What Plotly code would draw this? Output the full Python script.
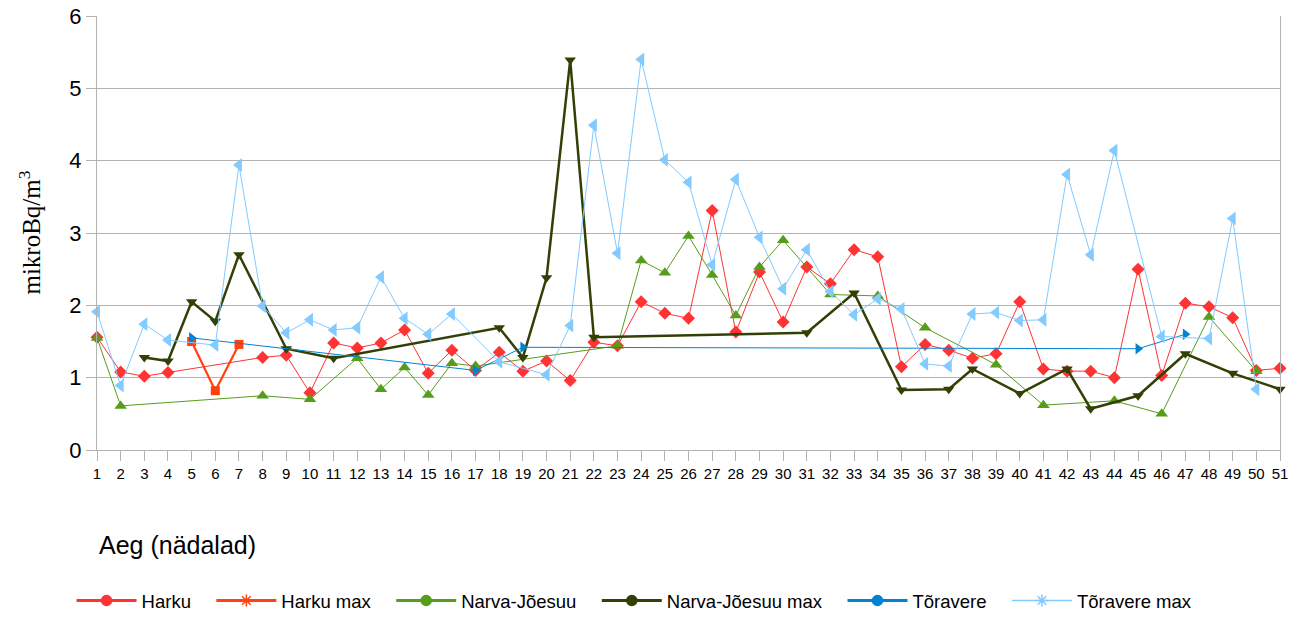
#!/usr/bin/env python3
#coding:utf-8

import plotly.graph_objects as go

# weekly values (mikroBq/m3); weeks with no value are simply left out
weeks = list(range(1, 52))

harku_w = [1, 2, 3, 4, 8, 9, 10, 11, 12, 13, 14, 15, 16, 17, 18, 19, 20, 21, 22, 23, 24, 25, 26,
           27, 28, 29, 30, 31, 32, 33, 34, 35, 36, 37, 38, 39, 40, 41, 42, 43, 44, 45, 46, 47,
           48, 49, 50, 51]
harku_v = [1.56, 1.08, 1.02, 1.07, 1.28, 1.31, 0.79, 1.48, 1.41, 1.48, 1.66, 1.06, 1.38, 1.10,
           1.35, 1.09, 1.23, 0.96, 1.49, 1.44, 2.05, 1.89, 1.82, 3.31, 1.63, 2.46, 1.77, 2.53,
           2.30, 2.77, 2.67, 1.15, 1.46, 1.38, 1.27, 1.33, 2.05, 1.12, 1.09, 1.09, 1.00, 2.50,
           1.03, 2.03, 1.98, 1.83, 1.10, 1.13]

harku_max_w = [5, 6, 7]
harku_max_v = [1.50, 0.82, 1.46]

narva_w = [1, 2, 8, 10, 12, 13, 14, 15, 16, 17, 23, 24, 25, 26, 27, 28, 29, 30, 32, 34, 36, 39,
           41, 44, 46, 48, 50]
narva_v = [1.55, 0.61, 0.75, 0.70, 1.27, 0.84, 1.14, 0.76, 1.20, 1.16, 1.44, 2.62, 2.45, 2.96,
           2.42, 1.86, 2.53, 2.90, 2.15, 2.13, 1.69, 1.18, 0.62, 0.68, 0.50, 1.84, 1.09]

narva_max_w = [3, 4, 5, 6, 7, 9, 11, 18, 19, 20, 21, 22, 31, 33, 35, 37, 38, 40, 42, 43, 45, 47,
               49, 51]
narva_max_v = [1.28, 1.23, 2.05, 1.78, 2.70, 1.40, 1.27, 1.69, 1.28, 2.38, 5.39, 1.56, 1.62,
               2.17, 0.83, 0.84, 1.12, 0.78, 1.12, 0.57, 0.75, 1.33, 1.06, 0.84]

torav_w = [5, 17, 19, 45, 47]
torav_v = [1.55, 1.10, 1.42, 1.40, 1.60]

torav_max_w = [1, 2, 3, 4, 6, 7, 8, 9, 10, 11, 12, 13, 14, 15, 16, 18, 20, 21, 22, 23, 24, 25,
               26, 27, 28, 29, 30, 31, 32, 33, 34, 35, 36, 37, 38, 39, 40, 41, 42, 43, 44, 46,
               48, 49, 50]
torav_max_v = [1.91, 0.89, 1.74, 1.52, 1.45, 3.94, 1.99, 1.62, 1.80, 1.66, 1.69, 2.39, 1.82,
               1.60, 1.88, 1.22, 1.04, 1.72, 4.49, 2.72, 5.40, 4.01, 3.70, 2.56, 3.74, 2.94,
               2.23, 2.77, 2.19, 1.87, 2.09, 1.95, 1.19, 1.16, 1.88, 1.90, 1.79, 1.80, 3.81,
               2.70, 4.14, 1.57, 1.54, 3.20, 0.84]

# name, x, y, colour, line width, plot symbol, marker size, legend symbol
series = [
    ("Harku", harku_w, harku_v, "#ff3333", 1, "diamond", 10, "circle"),
    ("Harku max", harku_max_w, harku_max_v, "#ff420e", 2.2, "square", 9, "asterisk-open"),
    ("Narva-Jõesuu", narva_w, narva_v, "#579d1c", 1, "triangle-up", 11, "circle"),
    ("Narva-Jõesuu max", narva_max_w, narva_max_v, "#314004", 2.5, "triangle-down", 10, "circle"),
    ("Tõravere", torav_w, torav_v, "#0084d1", 1, "triangle-right", 10, "circle"),
    ("Tõravere max", torav_max_w, torav_max_v, "#83caff", 1, "triangle-left", 12, "asterisk-open"),
]

fig = go.Figure()
for name, xs, ys, col, lw, sym, size, legsym in series:
    fig.add_trace(go.Scatter(x=xs, y=ys, mode="lines+markers", name=name, showlegend=False,
                             line=dict(color=col, width=lw),
                             marker=dict(symbol=sym, size=size, color=col, line=dict(width=0)),
                             cliponaxis=False))
# legend entries drawn like the original (circle / asterisk keys);
# no-break spaces widen the gap between entries
for name, xs, ys, col, lw, sym, size, legsym in series:
    fig.add_trace(go.Scatter(x=[None], y=[None], mode="lines+markers",
                             name=name + "\u00a0\u00a0\u00a0",
                             line=dict(color=col, width=3 if lw > 1.5 or legsym == "circle" else 1.5),
                             marker=dict(symbol=legsym, size=10, color=col,
                                         line=dict(color=col, width=1.5))))

fig.update_layout(
    width=1303, height=625,
    margin=dict(l=97, r=23, t=16, b=175, autoexpand=False),
    plot_bgcolor="white", paper_bgcolor="white",
    font=dict(family="Liberation Sans, Arial, sans-serif", color="#000000"),
    legend=dict(orientation="h", x=-0.0215, y=-0.348,
                xanchor="left", yanchor="middle", font=dict(size=18.5), itemwidth=60,
                tracegroupgap=0),
)
fig.update_xaxes(range=[1, 51], tickmode="array", tickvals=weeks, ticktext=[str(w) for w in weeks],
                 tickfont=dict(size=15), ticks="outside", ticklen=10, tickcolor="#b3b3b3",
                 ticklabelstandoff=0, ticklabeloverflow="allow",
                 showgrid=False, showline=True, linecolor="#b3b3b3", zeroline=False,
                 automargin=False)
fig.update_yaxes(range=[0, 6], dtick=1, tickfont=dict(size=22), ticks="outside", ticklen=10,
                 tickcolor="#b3b3b3", showgrid=True, gridcolor="#b3b3b3", gridwidth=1,
                 showline=True, linecolor="#b3b3b3", mirror=True, zeroline=False,
                 ticklabeloverflow="allow", automargin=False)
fig.add_annotation(text="mikroBq/m<sup>3</sup>", xref="paper", yref="paper", x=-0.057, y=0.5,
                   xanchor="center", yanchor="middle", textangle=-90, showarrow=False,
                   font=dict(family="Liberation Serif, Times New Roman, serif", size=25))
fig.add_annotation(text="Aeg (nädalad)", xref="paper", yref="paper", x=0, y=-0.22,
                   xanchor="left", yanchor="middle", showarrow=False,
                   font=dict(size=25))

# drop the browser's default 8px body margin so the figure fills the window
fig.write_html("out.html", config={"displayModeBar": False},
               post_script="document.body.style.margin='0';")
